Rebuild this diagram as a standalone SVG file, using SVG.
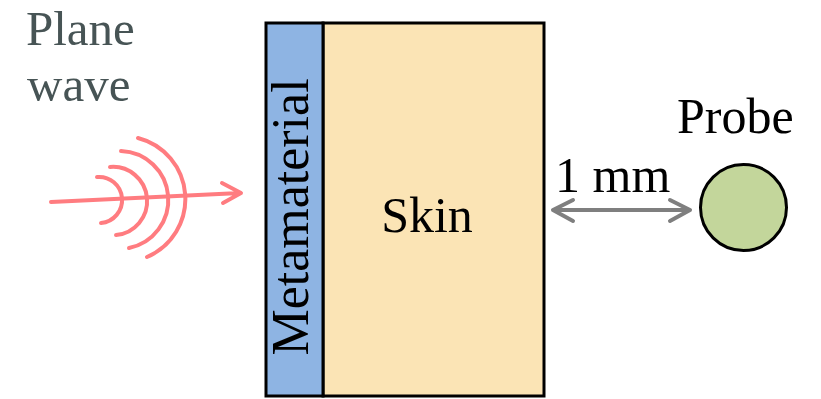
<svg xmlns="http://www.w3.org/2000/svg" width="821" height="399" viewBox="0 0 821 399">
<style>
  .t { font-family: "Liberation Serif", "DejaVu Serif", serif; font-size: 50px; fill: #000; }
  .pw { fill: #475455; }
  .box { stroke: #000; stroke-width: 3; }
  .wave { fill: none; stroke: #ff7c80; stroke-width: 4; stroke-linecap: round; }
  .gray { fill: none; stroke: #7f7f7f; stroke-width: 4; stroke-linecap: round; stroke-linejoin: round; }
</style>
<rect width="821" height="399" fill="#fff"/>
<g id="plane-wave">
  <text class="t pw" x="26" y="45" style="font-size:49px">Plane</text>
  <text class="t pw" x="27" y="101" style="font-size:49px">wave</text>
  <path class="wave" d="M97 177 A23 23 0 0 1 101 223"/>
  <path class="wave" d="M110 167 A33 33 0 0 1 116 235"/>
  <path class="wave" d="M121 151 A49 49 0 0 1 129 248"/>
  <path class="wave" d="M138 138 A63 63 0 0 1 147 257"/>
  <path class="wave" d="M51 202 L240 193 M222 183 L241 193 L223 203" stroke-linejoin="round"/>
</g>
<g id="skin">
  <rect class="box" x="323" y="23" width="221" height="373" fill="#fbe4b5"/>
  <text class="t" x="427" y="232" text-anchor="middle">Skin</text>
</g>
<g id="metamaterial">
  <rect class="box" x="266" y="23" width="57" height="373" fill="#8eb4e3"/>
  <text class="t" transform="translate(308,217) rotate(-90)" text-anchor="middle" style="font-size:52px">Metamaterial</text>
</g>
<g id="probe">
  <text class="t" x="677" y="133">Probe</text>
  <circle cx="743.5" cy="207.5" r="43" fill="#c3d69b" stroke="#000" stroke-width="3"/>
</g>
<g id="connectors">
  <path class="gray" d="M553 210 L690 210 M573 200 L553 210 L573 221 M670 200 L690 210 L670 221"/>
  <text class="t" x="555" y="192">1 mm</text>
</g>
</svg>
